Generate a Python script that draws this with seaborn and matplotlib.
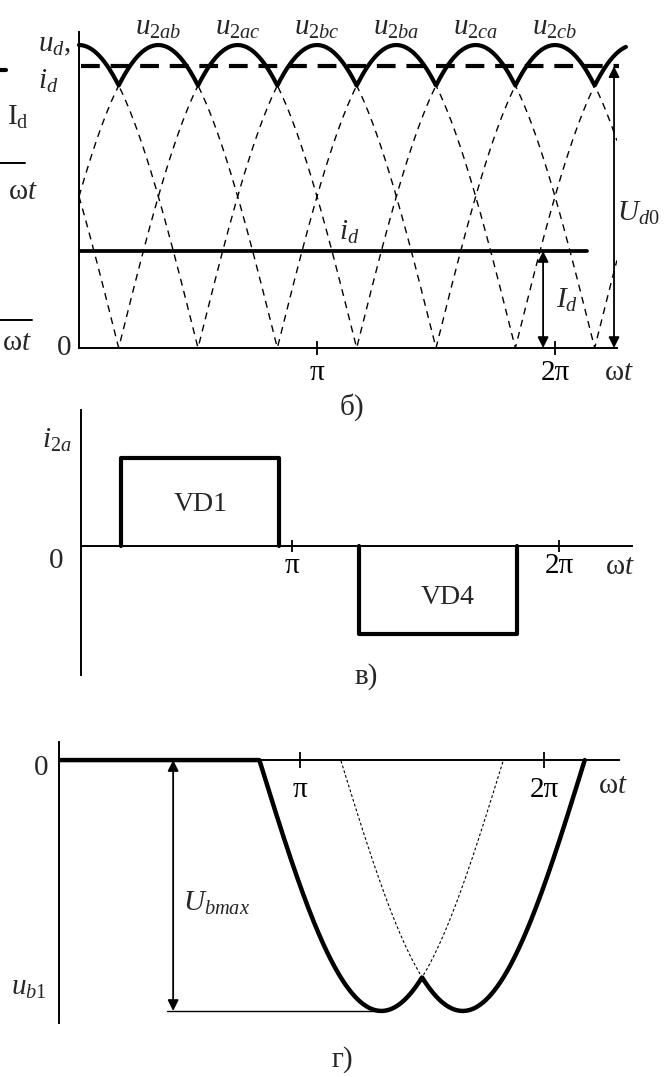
import numpy as np
import pandas as pd
import matplotlib
matplotlib.use("Agg")
import matplotlib.pyplot as plt
import seaborn as sns

sns.set_style("white")
plt.rcParams["font.family"] = ["Liberation Serif", "DejaVu Serif"]
plt.rcParams["mathtext.fontset"] = "custom"
plt.rcParams["mathtext.rm"] = "Liberation Serif"
plt.rcParams["mathtext.it"] = "Liberation Serif:italic"
plt.rcParams["mathtext.bf"] = "Liberation Serif:bold"

PI = np.pi
W, H, DPI = 668, 1077, 100
FS = 21

# ---------------- б) rectified voltage u_d and current i_d ----------------
line_voltage_names = ["u_{2ab}", "u_{2ac}", "u_{2bc}", "u_{2ba}", "u_{2ca}", "u_{2cb}"]
line_voltage_peaks = [1 / 3, 2 / 3, 1.0, 4 / 3, 5 / 3, 2.0]      # in units of pi
trace_zero_phases = [1 / 6, 1 / 2, 5 / 6]                      # zeros of |u2| traces, units of pi
ud_peak = 1.0
ud_mean = 0.93          # U_d0
id_level = 0.32         # I_d

# ---------------- в) phase current i_2a ----------------
pulse_names = ["VD1", "VD4"]
pulse_starts = [1 / 6, 7 / 6]       # units of pi
pulse_ends = [5 / 6, 11 / 6]
pulse_levels = [1.0, -1.0]

# ---------------- г) reverse voltage on VD1 ----------------
block_lobe_starts = [5 / 6, 7 / 6]  # units of pi
block_peak = 1.0


def px_axes(fig, x0, x1, y_top, y_bot):
    return fig.add_axes([x0 / W, 1 - y_bot / H, (x1 - x0) / W, (y_bot - y_top) / H])


def style_axes(ax, lw=1.4):
    for s in ("top", "right"):
        ax.spines[s].set_visible(False)
    for s in ("left", "bottom"):
        ax.spines[s].set_linewidth(lw)
        ax.spines[s].set_color("black")
    ax.patch.set_alpha(0)
    ax.grid(False)


def line(ax, x, y, lw, ls="-", clip=True, zorder=3):
    df = pd.DataFrame({"x": np.asarray(x, float), "y": np.asarray(y, float)})
    sns.lineplot(data=df, x="x", y="y", ax=ax, color="black", linewidth=lw,
                 linestyle=ls, estimator=None, sort=False, clip_on=clip,
                 zorder=zorder, legend=False)


def dbl_arrow(ax, x, y0, y1, lw=1.3):
    ax.annotate("", xy=(x, y1), xytext=(x, y0),
                arrowprops=dict(arrowstyle="<|-|>", color="black", lw=lw,
                                mutation_scale=16, shrinkA=0, shrinkB=0),
                annotation_clip=False, zorder=5)


def pi_ticks(ax, positions, length, pad):
    ax.set_yticks([])
    ax.set_xticks(positions)
    ax.set_xticklabels(["π", "2π"], fontsize=FS)
    ax.tick_params(axis="x", bottom=True, direction="inout", length=length,
                   width=1.3, pad=pad, colors="black")
    ax.set_xlabel("")
    ax.set_ylabel("")


fig = plt.figure(figsize=(W / DPI, H / DPI), dpi=DPI)
fig.patch.set_facecolor("white")

# ======================= panel б =======================
axb = px_axes(fig, 79, 617, 32, 348)
style_axes(axb)
axb.set_xlim(0, 2.2605 * PI)
axb.set_ylim(0, 1.043)

th = np.linspace(0, 2.26 * PI, 1500)
for z in trace_zero_phases:
    line(axb, th, ud_peak * np.abs(np.sin(th - z * PI)), 1.0, ls=(0, (5, 4)), zorder=2)

th_env = np.linspace(0, 2.298 * PI, 1500)
env = np.max([ud_peak * np.abs(np.sin(th_env - z * PI)) for z in trace_zero_phases], axis=0)
line(axb, th_env, env, 3.0, clip=False, zorder=4)

line(axb, [0.008 * PI, 2.27 * PI], [ud_mean, ud_mean], 3.0, ls=(0, (4.5, 2.6)), clip=False, zorder=4)
line(axb, [0, 2.134 * PI], [id_level, id_level], 2.7, zorder=4)

dbl_arrow(axb, 1.95 * PI, 0, id_level)
dbl_arrow(axb, 2.248 * PI, 0, ud_mean)

for name, pk in zip(line_voltage_names, line_voltage_peaks):
    axb.text(pk * PI, 1.056, f"${name}$", ha="center", va="center", fontsize=FS)

axb.text(-0.172 * PI, 1.0, r"$u_{d},$", ha="left", va="center", fontsize=FS)
axb.text(-0.172 * PI, 0.88, r"$i_{d}$", ha="left", va="center", fontsize=FS)
axb.text(2.26 * PI, 0.445, r"$U_{d0}$", ha="left", va="center", fontsize=FS)
axb.text(2.005 * PI, 0.158, r"$I_{d}$", ha="left", va="center", fontsize=FS)
axb.text(1.134 * PI, 0.38, r"$i_{d}$", ha="center", va="center", fontsize=FS)
axb.text(-0.064 * PI, 0.0, "0", ha="center", va="center", fontsize=FS)
axb.text(2.27 * PI, -0.082, r"ω$t$", ha="center", va="center", fontsize=FS)
pi_ticks(axb, [PI, 2 * PI], 10, 4)

# ======================= panel в =======================
axv = px_axes(fig, 81, 632, 410, 675)
style_axes(axv)
axv.set_xlim(0, 2.315 * PI)
axv.set_ylim(-1.466, 1.545)
axv.spines["bottom"].set_position(("data", 0))

for nm, s, e, lv in zip(pulse_names, pulse_starts, pulse_ends, pulse_levels):
    line(axv, [s * PI, s * PI, e * PI, e * PI], [0, lv, lv, 0], 3.0, zorder=4)

axv.text(0.504 * PI, 0.466, "VD1", ha="center", va="center", fontsize=FS - 1)
axv.text(1.542 * PI, -0.59, "VD4", ha="center", va="center", fontsize=FS - 1)
axv.text(-0.1 * PI, 1.2, r"$i_{2a}$", ha="center", va="center", fontsize=FS)
axv.text(-0.105 * PI, -0.17, "0", ha="center", va="center", fontsize=FS)
axv.text(2.265 * PI, -0.24, r"ω$t$", ha="center", va="center", fontsize=FS)
pi_ticks(axv, [0.887 * PI, 2.01 * PI], 9, 0.5)

# ======================= panel г =======================
axg = px_axes(fig, 59, 619, 742, 1023)
style_axes(axg)
axg.set_xlim(0.0123 * PI, 2.307 * PI)
axg.set_ylim(-1.048, 0.072)
axg.spines["bottom"].set_position(("data", 0))

thg = np.linspace(0.0123 * PI, 13 / 6 * PI, 2000)
lobes = []
for st in block_lobe_starts:
    ph = thg - st * PI
    inside = (ph >= 0) & (ph <= PI)
    lobe = np.where(inside, -block_peak * np.sin(np.clip(ph, 0, PI)), 0.0)
    lobes.append(lobe)
    line(axg, thg[inside], lobe[inside], 0.8, ls=(0, (2.5, 2)), zorder=2)
u_block = np.min(lobes, axis=0)
line(axg, thg, u_block, 3.2, zorder=4)

dbl_arrow(axg, 0.48 * PI, 0, -block_peak)
line(axg, [0.455 * PI, 4 / 3 * PI], [-block_peak, -block_peak], 1.0, zorder=3)

axg.text(0.656 * PI, -0.57, r"$U_{bmax}$", ha="center", va="center", fontsize=FS)
axg.text(-0.11 * PI, -0.908, r"$u_{b1}$", ha="center", va="center", fontsize=FS)
axg.text(-0.06 * PI, -0.032, "0", ha="center", va="center", fontsize=FS)
axg.text(2.283 * PI, -0.104, r"ω$t$", ha="center", va="center", fontsize=FS)
pi_ticks(axg, [PI, 2 * PI], 11, 7)

# ---------------- captions ----------------
for txt, (cx, cy) in [("б)", (352, 407)), ("в)", (366, 677)), ("г)", (342, 1060))]:
    fig.text(cx / W, 1 - cy / H, txt, ha="center", va="center", fontsize=FS)

# ---------------- edge of the neighbouring diagram ----------------
axl = px_axes(fig, 0, 40, 0, 360)
axl.set_xlim(0, 40)
axl.set_ylim(360, 0)
axl.axis("off")
edge_rule_y = [163, 320]
edge_rule_end = [25, 32]
for yy, xe in zip(edge_rule_y, edge_rule_end):
    line(axl, [0, xe], [yy, yy], 1.4, clip=False)
line(axl, [0, 6], [70, 70], 3.0, clip=False)
axl.text(18, 117, r"$\mathrm{I_d}$", ha="center", va="center", fontsize=FS)
axl.text(23, 192, r"ω$t$", ha="center", va="center", fontsize=FS)
axl.text(17, 343, r"ω$t$", ha="center", va="center", fontsize=FS)

fig.savefig("out.png", dpi=DPI, facecolor="white")
